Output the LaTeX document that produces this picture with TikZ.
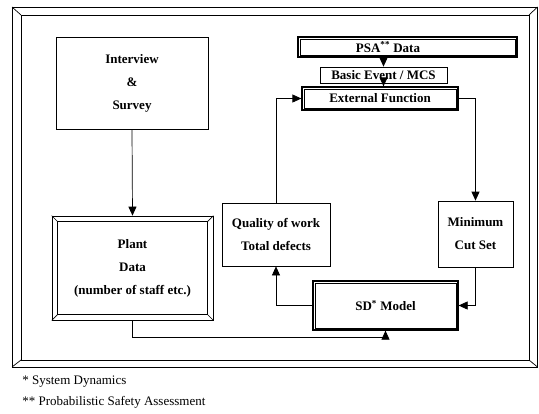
\documentclass[tikz,border=0pt]{standalone}
\usepackage{fontspec}
\setmainfont{Liberation Serif}
\usetikzlibrary{positioning,arrows.meta}

\begin{document}
\begin{tikzpicture}[
		x=1pt, y=-1pt,
		>={Triangle[length=9pt,width=8pt]},
		line width=0.7pt,
		box/.style={
			draw=black,
			rectangle,
			inner sep=2pt,
			align=center,
			font=\fontsize{13}{23}\selectfont\bfseries
		},
		dbox/.style={
			box,
			line width=1.2pt
		},
		frame/.style={line width=1pt},
		note/.style={anchor=west, inner sep=0pt, font=\fontsize{13}{15}\selectfont}
		]
		\useasboundingbox (0,0) rectangle (539,413);
		
		% Bevelled outer frame
		\coordinate (fo1) at (12,7);
		\coordinate (fo2) at (537.5,367);
		\coordinate (fi1) at (21,15);
		\coordinate (fi2) at (529,360);
		\draw[frame] (fo1) rectangle (fo2);
		\draw[frame] (fi1) rectangle (fi2);
		\draw (fo1) -- (fi1);
		\draw (fo1 -| fo2) -- (fi1 -| fi2);
		\draw (fo2) -- (fi2);
		\draw (fo1 |- fo2) -- (fi1 |- fi2);
		
		% Boxes
		\node[box, minimum width=152, minimum height=92] (interview) at (132,83) {Interview\\\&\\Survey};
		\node[box, minimum width=161, minimum height=104] (plant) at (132.5,268) {Plant\\Data\\(number of staff etc.)};
		\node[box, minimum width=108, minimum height=63] (quality) at (276,234.5) {Quality of work\\Total defects};
		\node[dbox, minimum width=219, minimum height=20] (psa) at (407.5,47) {};
		\node[font=\fontsize{13}{15}\selectfont\bfseries] (psalabel) at (388,47) {PSA\textsuperscript{**} Data};
		\node[box, minimum width=127, minimum height=16] (basic) at (383.5,75) {Basic Event / MCS};
		\node[dbox, minimum width=156, minimum height=23] (ext) at (380,98.5) {External Function};
		\node[box, minimum width=75, minimum height=66] (mcs) at (475.5,234) {Minimum\\Cut Set};
		\node[dbox, minimum width=145, minimum height=49] (sd) at (385.5,305.5) {SD\textsuperscript{*} Model};
		
		% Inner lines of the double boxes
		\foreach \n in {psa,ext,sd}
			\draw[line width=0.5pt] ([shift={(2.6,2.6)}]\n.north west) rectangle ([shift={(-2.6,-2.6)}]\n.south east);
		
		% Bevel of the plant data box
		\draw ([shift={(6,6)}]plant.north west) rectangle ([shift={(-6,-6)}]plant.south east);
		\draw (plant.north west) -- ([shift={(6,6)}]plant.north west);
		\draw (plant.north east) -- ([shift={(-6,6)}]plant.north east);
		\draw (plant.south west) -- ([shift={(6,-6)}]plant.south west);
		\draw (plant.south east) -- ([shift={(-6,-6)}]plant.south east);
		
		% Connectors
		\draw[->] (interview.south) -- (plant.north);
		\draw[->] (basic.north |- psa.south) -- (basic.north);
		\draw[->] (basic.south) -- (basic.south |- ext.north);
		\draw[->] (ext.east) -| (mcs.north);
		\draw[->] (mcs.south) |- (sd.east);
		\draw[->] (sd.west) -| (quality.south);
		\draw[->] (quality.north) |- (ext.west);
		\draw[->] (plant.south) -- ++(0,17) -| (sd.south);
		
		% Footnotes
		\node[note] (fn1) at (22,382) {* System Dynamics};
		\node[note] (fn2) at (22,402) {** Probabilistic Safety Assessment};
	\end{tikzpicture}
\end{document}
